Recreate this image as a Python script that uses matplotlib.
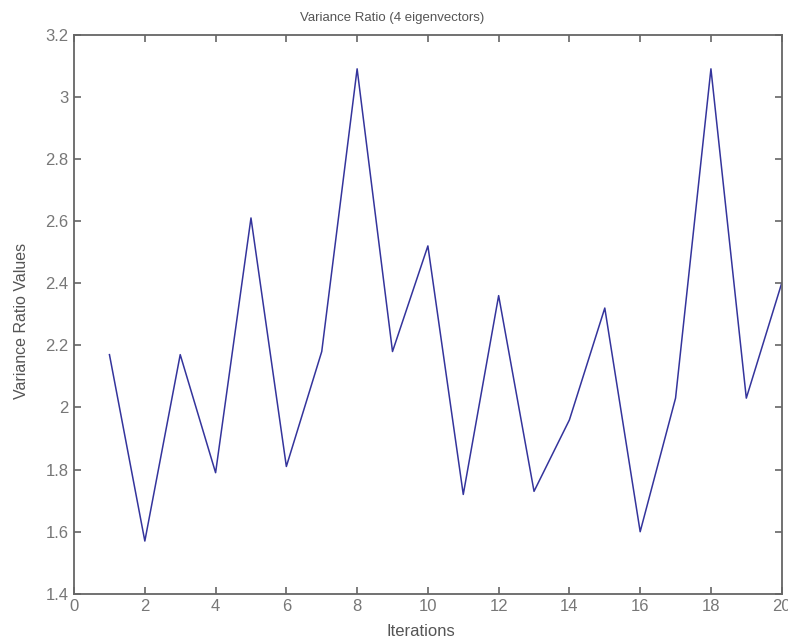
import numpy as np
import matplotlib.pyplot as plt

iterations = np.arange(1, 21)
ratio = [2.17, 1.57, 2.17, 1.79, 2.61, 1.81, 2.18, 3.09, 2.18, 2.52,
         1.72, 2.36, 1.73, 1.96, 2.32, 1.60, 2.03, 3.09, 2.03, 2.40]

plt.rcParams['font.family'] = ['Liberation Sans', 'DejaVu Sans']
grey = '#666666'

fig = plt.figure(figsize=(7.88, 6.42), dpi=100)
ax = fig.add_axes([0.094, 0.075, 0.898, 0.871])
ax.plot(iterations, ratio, color='#34349c', linewidth=1.1)

ax.set_xlim(0, 20)
ax.set_ylim(1.4, 3.2)
ax.set_xticks(np.arange(0, 21, 2))
ax.set_yticks(np.round(np.arange(1.4, 3.21, 0.2), 1))
ax.set_yticklabels(['1.4', '1.6', '1.8', '2', '2.2', '2.4', '2.6', '2.8', '3', '3.2'])
ax.tick_params(direction='in', top=True, right=True, length=5, width=1.2,
               colors=grey, labelsize=12, labelcolor='#777777', pad=4)
for s in ax.spines.values():
    s.set_color(grey)
    s.set_linewidth(1.3)

ax.set_title('Variance Ratio (4 eigenvectors)', color='#555555', fontsize=9.5,
             x=0.45, pad=10)
ax.set_xlabel('Iterations', color='#555555', fontsize=12)
ax.xaxis.set_label_coords(0.49, -0.054)
ax.set_ylabel('Variance Ratio Values', color='#555555', fontsize=11.5)
ax.yaxis.set_label_coords(-0.064, 0.488)

fig.savefig('out.png', dpi=100)
